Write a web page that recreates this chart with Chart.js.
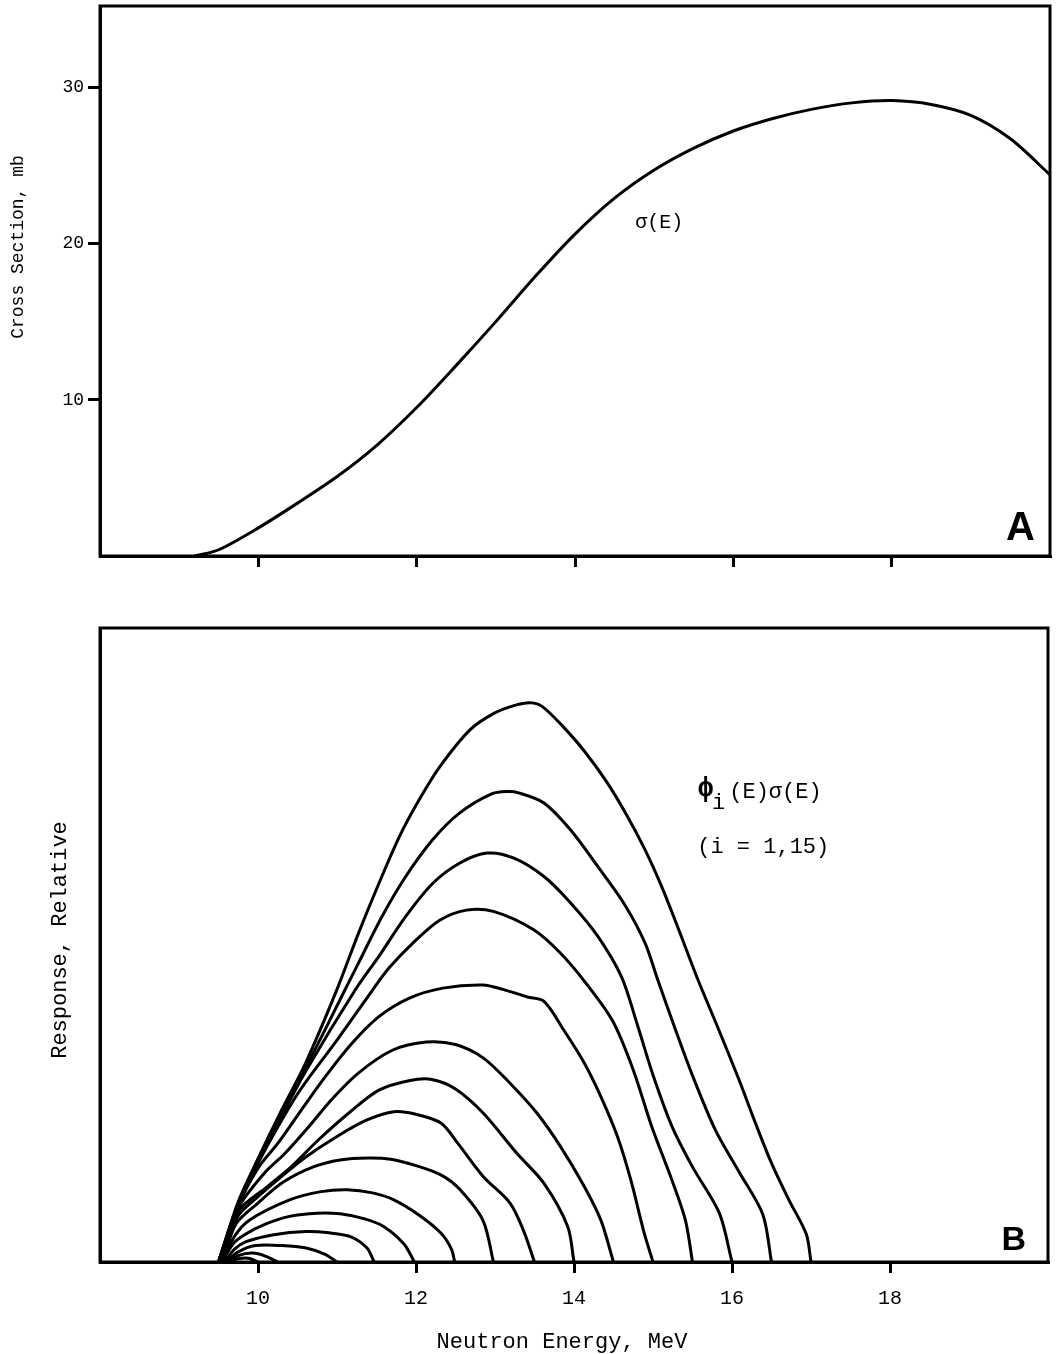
<!DOCTYPE html>
<html>
<head>
<meta charset="utf-8">
<title>Cross section and response</title>
<script src="https://cdn.jsdelivr.net/npm/chart.js@4.4.0/dist/chart.umd.min.js"></script>
<style>
  html, body { margin: 0; padding: 0; background: #fff; }
  #wrap { position: relative; width: 1060px; height: 1354px; }
  canvas { position: absolute; left: 0; }
  #panelA { top: 0; }
  #panelB { top: 600px; }
</style>
</head>
<body>
<div id="wrap">
  <canvas id="panelA" width="1060" height="600"></canvas>
  <canvas id="panelB" width="1060" height="754"></canvas>
</div>
<script>
const MONO = '"Liberation Mono", "DejaVu Sans Mono", monospace';
const SANS = '"Liberation Sans", Arial, sans-serif';

// axis ticks
const energyTicks = [10, 12, 14, 16, 18];
const sigmaTicks = [10, 20, 30];

// panel A: cross section sigma(E), mb
const sigmaEnergy = [9.2, 9.5, 10, 10.5, 11, 11.5, 12, 12.5, 13, 13.5, 14, 14.5, 15, 15.5, 16, 16.5, 17, 17.5, 18, 18.5, 19, 19.5, 20];
const sigmaValue = [0, 0.4, 1.8, 3.4, 5.1, 7.1, 9.5, 12.2, 15.0, 17.9, 20.6, 22.9, 24.7, 26.1, 27.2, 28.0, 28.6, 29.0, 29.15, 28.9, 28.2, 26.7, 24.4];

// panel B: phi_i(E) sigma(E), relative units, [E (MeV), response]
const resp01 = [[9.5, 0], [9.75, 9.5], [10.0, 16.3], [10.3, 24], [10.6, 31.3], [11.0, 43], [11.27, 51.8], [11.53, 59.7], [11.79, 67.1], [12.04, 72.9], [12.3, 78.1], [12.68, 83.9], [12.98, 86.5], [13.25, 87.8], [13.45, 88.2], [13.6, 87.6], [13.85, 84.6], [14.13, 80.6], [14.42, 75.6], [14.68, 70.2], [14.9, 65], [15.11, 59.2], [15.32, 52.6], [15.56, 44.8], [15.84, 36.4], [16.09, 28.7], [16.3, 21.8], [16.5, 15.6], [16.72, 9.8], [16.94, 4.4], [17.0, 0]];
const resp02 = [[9.5, 0], [9.75, 9.3], [10.0, 16], [10.3, 23.5], [10.6, 30.5], [11.1, 42.9], [11.27, 47.1], [11.57, 54.5], [11.87, 60.8], [12.21, 66.6], [12.55, 70.8], [12.95, 73.8], [13.15, 74.2], [13.3, 74.0], [13.62, 72.4], [13.96, 68.1], [14.3, 62.4], [14.64, 56.4], [14.9, 50.3], [15.06, 44.5], [15.28, 36.8], [15.5, 29.4], [15.79, 20.8], [16.09, 14.2], [16.39, 7.5], [16.5, 0]];
const resp03 = [[9.5, 0], [9.75, 9.2], [10.0, 15.8], [10.3, 23], [10.6, 30], [11.23, 42.9], [11.53, 48.2], [11.87, 54.5], [12.21, 59.7], [12.55, 62.9], [12.9, 64.5], [13.24, 63.7], [13.62, 60.8], [13.96, 56.6], [14.3, 51.4], [14.6, 45.0], [14.8, 37.5], [15.0, 29.5], [15.24, 21.4], [15.5, 15.0], [15.84, 7.7], [16.0, 0]];
const resp04 = [[9.5, 0], [9.75, 9], [10.0, 15.6], [10.5, 26.5], [11.0, 35.0], [11.45, 42.9], [11.66, 46.4], [11.96, 50.3], [12.3, 53.9], [12.64, 55.5], [12.98, 55.3], [13.49, 52.4], [13.83, 48.7], [14.15, 44.0], [14.49, 38.0], [14.75, 30.3], [14.98, 21.5], [15.24, 12.9], [15.41, 6.6], [15.5, 0]];
const resp05 = [[9.52, 0], [9.75, 8.8], [10.0, 14.8], [10.25, 18.7], [10.55, 24.0], [10.85, 29.2], [11.19, 34.5], [11.53, 38.7], [11.91, 41.6], [12.34, 43.2], [12.85, 43.7], [13.1, 43.0], [13.41, 41.8], [13.62, 41.1], [13.87, 36.6], [14.13, 31.4], [14.34, 26.1], [14.55, 19.8], [14.72, 12.9], [14.89, 4.5], [15.0, 0]];
const resp06 = [[9.52, 0], [9.75, 8.5], [10.08, 14.0], [10.34, 17.1], [10.64, 21.3], [10.93, 25.6], [11.27, 29.8], [11.7, 33.4], [12.13, 34.7], [12.5, 34.3], [12.85, 32.2], [13.19, 28.2], [13.53, 23.5], [13.83, 18.2], [14.13, 11.9], [14.34, 6.6], [14.5, 0]];
const resp07 = [[9.52, 0], [9.75, 8], [10.12, 11.9], [10.42, 15.0], [10.76, 19.2], [11.15, 23.5], [11.53, 27.1], [11.91, 28.6], [12.2, 28.8], [12.5, 27.3], [12.85, 23.5], [13.28, 17.1], [13.62, 12.4], [13.92, 5.6], [14.0, 0]];
const resp08 = [[9.52, 0], [9.75, 7.3], [10.0, 10.3], [10.27, 13.2], [10.61, 16.6], [11.0, 19.8], [11.38, 22.4], [11.72, 23.7], [12.0, 23.3], [12.32, 21.9], [12.53, 18.7], [12.85, 13.5], [13.19, 9.3], [13.36, 5.0], [13.5, 0]];
const resp09 = [[9.55, 0], [9.72, 6.0], [10.0, 9.3], [10.32, 12.6], [10.7, 15.0], [11.04, 16.1], [11.4, 16.4], [11.68, 16.2], [12.0, 15.2], [12.32, 13.7], [12.55, 11.5], [12.85, 6.5], [12.98, 0]];
const resp10 = [[9.55, 0], [9.7, 4.0], [9.89, 6.6], [10.4, 9.8], [10.8, 11.1], [11.13, 11.4], [11.45, 10.9], [11.72, 9.8], [12.05, 7.3], [12.32, 4.5], [12.45, 2.0], [12.49, 0]];
const resp11 = [[9.55, 0], [9.68, 2.8], [9.83, 4.3], [10.1, 6.0], [10.4, 7.2], [10.75, 7.7], [11.04, 7.6], [11.35, 6.8], [11.59, 5.6], [11.85, 2.8], [11.98, 0]];
const resp12 = [[9.58, 0], [9.7, 2.0], [9.85, 3.2], [10.2, 4.3], [10.61, 4.8], [10.9, 4.6], [11.17, 4.0], [11.38, 2.2], [11.47, 0]];
const resp13 = [[9.6, 0], [9.75, 1.6], [9.97, 2.6], [10.3, 2.6], [10.61, 2.2], [10.85, 1.2], [11.0, 0]];
const resp14 = [[9.62, 0], [9.75, 1.0], [9.93, 1.4], [10.1, 0.9], [10.25, 0]];
const resp15 = [[9.65, 0], [9.75, 0.5], [9.88, 0.6], [10.0, 0]];

const responseCurves = [resp01, resp02, resp03, resp04, resp05, resp06, resp07, resp08, resp09, resp10, resp11, resp12, resp13, resp14, resp15];

// box round the plot area
const frame = {
  id: 'frame',
  afterDraw(chart) {
    const { ctx, chartArea: a } = chart;
    ctx.save();
    ctx.strokeStyle = '#000';
    ctx.lineWidth = 3;
    ctx.strokeRect(a.left, a.top, a.right - a.left, a.bottom - a.top);
    ctx.restore();
  }
};

function textPlugin(id, draw) {
  return {
    id,
    afterDraw(chart) {
      const ctx = chart.ctx;
      ctx.save();
      ctx.fillStyle = '#000';
      draw(chart, ctx);
      ctx.restore();
    }
  };
}

function vertical(ctx, text, x, y, font) {
  ctx.save();
  ctx.translate(x, y);
  ctx.rotate(-Math.PI / 2);
  ctx.font = font;
  ctx.textAlign = 'center';
  ctx.textBaseline = 'middle';
  ctx.fillText(text, 0, 0);
  ctx.restore();
}

const notesA = textPlugin('notesA', (chart, ctx) => {
  const { x, y } = chart.scales;
  const a = chart.chartArea;
  ctx.font = '20px ' + MONO;
  ctx.textAlign = 'left';
  ctx.textBaseline = 'middle';
  ctx.fillText('σ(E)', x.getPixelForValue(14.76), y.getPixelForValue(21.3));
  ctx.font = 'bold 40px ' + SANS;
  ctx.textAlign = 'right';
  ctx.textBaseline = 'alphabetic';
  ctx.fillText('A', a.right - 15, a.bottom - 16);
  vertical(ctx, 'Cross Section, mb', 18, 247, '18px ' + MONO);
});

const notesB = textPlugin('notesB', (chart, ctx) => {
  const { x, y } = chart.scales;
  const a = chart.chartArea;
  const x0 = x.getPixelForValue(15.56);
  const y0 = y.getPixelForValue(74.1);
  ctx.textAlign = 'left';
  ctx.textBaseline = 'middle';
  ctx.font = 'bold 28px ' + MONO;
  ctx.fillText('ϕ', x0, y0 - 3);
  let w = ctx.measureText('ϕ').width;
  ctx.font = '22px ' + MONO;
  ctx.fillText('i', x0 + w - 2, y0 + 11);
  w += ctx.measureText('i').width;
  ctx.fillText('(E)σ(E)', x0 + w + 2, y0);
  ctx.fillText('(i = 1,15)', x0, y.getPixelForValue(65.5));
  ctx.font = 'bold 34px ' + SANS;
  ctx.textAlign = 'right';
  ctx.textBaseline = 'alphabetic';
  ctx.fillText('B', a.right - 22, a.bottom - 12);
  vertical(ctx, 'Response, Relative', 60, 340, '22px ' + MONO);
  ctx.font = '22px ' + MONO;
  ctx.textAlign = 'center';
  ctx.textBaseline = 'middle';
  ctx.fillText('Neutron Energy, MeV', 562, 742);
});

const tickGrid = len => ({ drawOnChartArea: false, drawTicks: true, tickLength: len, lineWidth: 3, color: '#000' });
const axisBorder = { display: true, width: 3, color: '#000' };
const noPad = s => { s.paddingTop = 0; s.paddingBottom = 0; s.paddingLeft = 0; s.paddingRight = 0; };

new Chart(document.getElementById('panelA'), {
  type: 'line',
  data: {
    datasets: [{
      data: sigmaEnergy.map((e, i) => ({ x: e, y: sigmaValue[i] })),
      borderColor: '#000',
      borderWidth: 3,
      pointRadius: 0,
      tension: 0.3,
      fill: false
    }]
  },
  options: {
    responsive: false,
    animation: false,
    events: [],
    layout: { padding: { top: 6, right: 10, left: 0, bottom: 0 } },
    plugins: { legend: { display: false }, tooltip: { enabled: false } },
    scales: {
      x: {
        type: 'linear', min: 8, max: 20,
        afterBuildTicks: s => { s.ticks = energyTicks.map(v => ({ value: v })); },
        afterFit: s => { s.height = 44; noPad(s); },
        grid: tickGrid(11),
        border: axisBorder,
        ticks: { display: false }
      },
      y: {
        type: 'linear', min: 0, max: 35.2,
        afterBuildTicks: s => { s.ticks = sigmaTicks.map(v => ({ value: v })); },
        afterFit: s => { s.width = 100; noPad(s); },
        grid: tickGrid(12),
        border: axisBorder,
        ticks: { color: '#000', padding: 4, font: { family: MONO, size: 18 } }
      }
    }
  },
  plugins: [frame, notesA]
});

new Chart(document.getElementById('panelB'), {
  type: 'line',
  data: {
    datasets: responseCurves.map(c => ({
      data: c.map(p => ({ x: p[0], y: p[1] })),
      borderColor: '#000',
      borderWidth: 3,
      pointRadius: 0,
      tension: 0.3,
      fill: false
    }))
  },
  options: {
    responsive: false,
    animation: false,
    events: [],
    layout: { padding: { top: 28, right: 12, left: 0, bottom: 0 } },
    plugins: { legend: { display: false }, tooltip: { enabled: false } },
    scales: {
      x: {
        type: 'linear', min: 8, max: 20,
        afterBuildTicks: s => { s.ticks = energyTicks.map(v => ({ value: v })); },
        afterFit: s => { s.height = 92; noPad(s); },
        grid: tickGrid(11),
        border: axisBorder,
        ticks: { color: '#000', padding: 14, font: { family: MONO, size: 20 } }
      },
      y: {
        type: 'linear', min: 0, max: 100,
        afterFit: s => { s.width = 100; noPad(s); },
        grid: { display: false },
        border: axisBorder,
        ticks: { display: false }
      }
    }
  },
  plugins: [frame, notesB]
});
</script>
</body>
</html>
